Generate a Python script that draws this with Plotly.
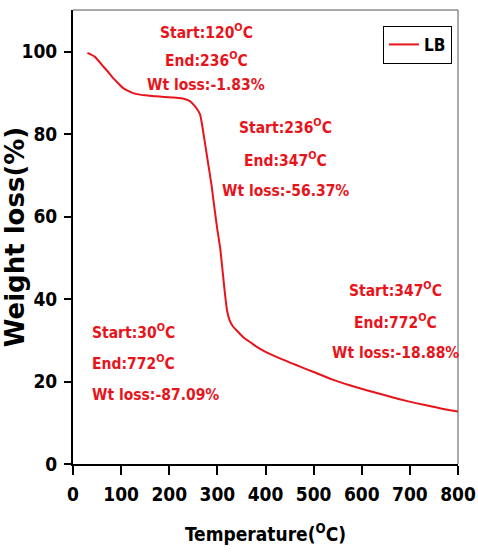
import plotly.graph_objects as go

# Data (TGA curve of LB)
temperature = [30, 45, 63, 75, 84, 95, 105, 120, 133, 150, 170, 190, 210, 225, 235, 243,
               250, 257, 264, 270, 276, 282, 288, 294, 300, 306, 312, 316, 320, 325, 332,
               340, 355, 370, 382, 400, 430, 472, 500, 541, 575, 610, 645, 679, 715, 748,
               775, 800]
weight = [99.7, 98.8, 96.4, 94.8, 93.5, 92.2, 91.1, 90.2, 89.7, 89.4, 89.2, 89.0, 88.9,
          88.7, 88.4, 88.0, 87.2, 86.2, 84.8, 81.0, 76.5, 72.0, 67.5, 62.0, 56.8, 52.2,
          45.5, 41.0, 37.3, 35.0, 33.4, 32.4, 30.6, 29.4, 28.4, 27.2, 25.6, 23.6, 22.3,
          20.4, 19.1, 17.9, 16.8, 15.7, 14.7, 13.9, 13.2, 12.7]

x_ticks = [0, 100, 200, 300, 400, 500, 600, 700, 800]
y_ticks = [0, 20, 40, 60, 80, 100]

block1 = ["Start:120<sup>O</sup>C", "End:236<sup>O</sup>C", "Wt loss:-1.83%"]
block2 = ["Start:236<sup>O</sup>C", "End:347<sup>O</sup>C", "Wt loss:-56.37%"]
block3 = ["Start:347<sup>O</sup>C", "End:772<sup>O</sup>C", "Wt loss:-18.88%"]
block4 = ["Start:30<sup>O</sup>C", "End:772<sup>O</sup>C", "Wt loss:-87.09%"]

RED = "#e8141c"
NARROW = "DejaVu Sans Condensed, Liberation Sans Narrow, Arial Narrow, Liberation Sans, sans-serif"

fig = go.Figure()
fig.add_trace(go.Scatter(x=temperature, y=weight, mode="lines", name="LB",
                         line=dict(color=RED, width=2, shape="spline", smoothing=0.5)))

annotations = []
def add_block(lines, x, ys, anchor):
    for txt, y in zip(lines, ys):
        annotations.append(dict(x=x, y=y, xref="x", yref="y", text=txt, showarrow=False,
                                xanchor=anchor, yanchor="middle",
                                font=dict(family=NARROW, size=15.5, color=RED, weight="bold")))

add_block(block1, 277, [105.0, 98.2, 91.8], "center")
add_block(block2, 442, [81.8, 73.8, 66.2], "center")
add_block(block3, 670, [42.2, 34.5, 27.0], "center")
add_block(block4, 35, [32.2, 24.5, 16.8], "left")

fig.update_layout(
    width=478, height=557,
    margin=dict(l=73, r=20, t=10, b=93, autoexpand=False),
    paper_bgcolor="white", plot_bgcolor="white",
    showlegend=True,
    legend=dict(x=0.805, y=0.965, xanchor="left", yanchor="top",
                bordercolor="black", borderwidth=1, bgcolor="white",
                font=dict(family=NARROW, size=17, color="black", weight="bold"),
                itemwidth=30),
    annotations=annotations,
    xaxis=dict(range=[0, 800], tickvals=x_ticks, showgrid=False, zeroline=False,
               automargin=False,
               showline=True, linecolor="black", linewidth=2,
               ticks="outside", ticklen=9, tickwidth=1.5, tickcolor="black",
               ticklabelstandoff=3,
               tickfont=dict(family=NARROW, size=19, color="black", weight="bold"),
               title=dict(text="Temperature(<sup>O</sup>C)", standoff=24,
                          font=dict(family=NARROW, size=19, color="black", weight="bold"))),
    yaxis=dict(range=[0, 110.1], tickvals=y_ticks, showgrid=False, zeroline=False,
               automargin=False,
               showline=True, linecolor="black", linewidth=2,
               ticks="outside", ticklen=7, tickwidth=1.5, tickcolor="black",
               ticklabelstandoff=3,
               tickfont=dict(family=NARROW, size=19, color="black", weight="bold"),
               title=dict(text="Weight loss(%)", standoff=0,
                          font=dict(family="DejaVu Sans, sans-serif", size=26,
                                    color="black", weight="bold"))),
    shapes=[
        dict(type="line", xref="paper", yref="paper", x0=0, x1=1, y0=1, y1=1,
             line=dict(color="#555555", width=1)),
        dict(type="line", xref="paper", yref="paper", x0=1, x1=1, y0=0, y1=1,
             line=dict(color="#555555", width=1)),
    ],
)

fig.write_html("out.html", config={"displayModeBar": False},
               post_script="document.body.style.margin='0px';")
